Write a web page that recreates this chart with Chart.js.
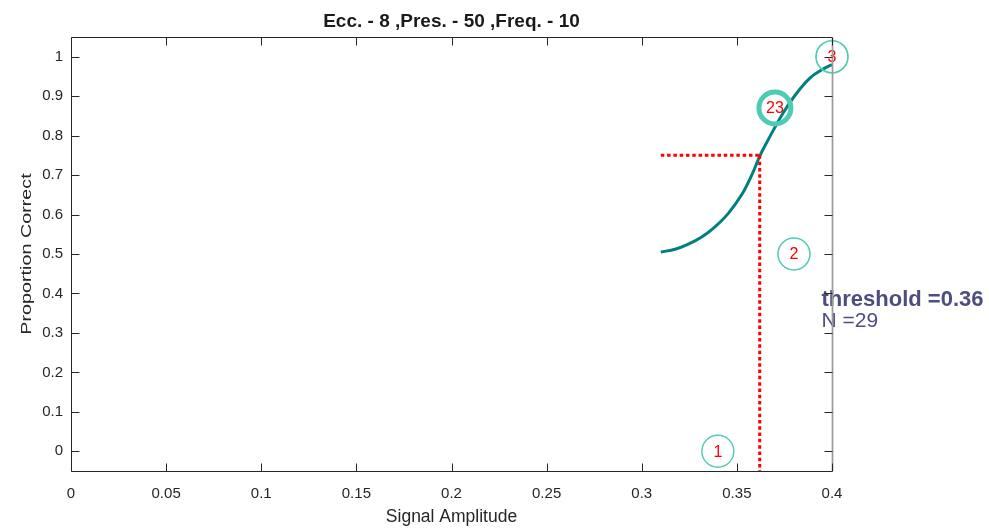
<!DOCTYPE html>
<html><head><meta charset="utf-8">
<script src="https://cdn.jsdelivr.net/npm/chart.js@4.4.0/dist/chart.umd.min.js"></script>
<style>html,body{margin:0;padding:0;background:#fff;}#wrap{width:989px;height:529px;position:relative;}</style>
</head><body><div id="wrap"><canvas id="c" width="989" height="529"></canvas></div>
<script>
const chartTitle = 'Ecc. - 8 ,Pres. - 50 ,Freq. - 10';
const xAxisLabel = 'Signal Amplitude';
const yAxisLabel = 'Proportion Correct';
const xTicks = [0, 0.05, 0.1, 0.15, 0.2, 0.25, 0.3, 0.35, 0.4];
const xTickLabels = ['0', '0.05', '0.1', '0.15', '0.2', '0.25', '0.3', '0.35', '0.4'];
const yTicks = [0, 0.1, 0.2, 0.3, 0.4, 0.5, 0.6, 0.7, 0.8, 0.9, 1];
const yTickLabels = ['0', '0.1', '0.2', '0.3', '0.4', '0.5', '0.6', '0.7', '0.8', '0.9', '1'];
const xRange = [0, 0.4];
const yRange = [-0.05, 1.05];

const stimLevels = [0.34, 0.38, 0.37, 0.40];
const propCorrect = [0, 0.5, 0.87, 1.0];
const trialCounts = [1, 2, 23, 3];

const fitX = [0.3100, 0.3175, 0.3245, 0.3315, 0.3385, 0.3455, 0.3525, 0.3578, 0.3622, 0.3665, 0.3692, 0.3744, 0.3815, 0.3884, 0.3954, 0.4000];
const fitY = [0.505, 0.512, 0.525, 0.543, 0.569, 0.603, 0.650, 0.700, 0.750, 0.790, 0.814, 0.858, 0.908, 0.946, 0.969, 0.980];

const threshold = 0.362;
const thresholdLevel = 0.75;
const totalN = 29;
const infoText = ['threshold =' + threshold.toFixed(2), 'N =' + totalN];
const infoAnchor = [0.3945, 0.367, 0.316];

const FONT = "'Liberation Sans', Arial, sans-serif";
const AXIS_COLOR = '#262626';

const framePlugin = {
  id: 'frame',
  afterDraw(chart) {
    const {ctx, chartArea: a, scales} = chart;
    const L = Math.round(a.left) + 0.5, R = Math.round(a.right) + 0.5;
    const T = Math.round(a.top) + 0.5, B = Math.round(a.bottom) + 0.5;
    ctx.save();
    ctx.lineWidth = 1;
    ctx.strokeStyle = AXIS_COLOR;
    ctx.beginPath();
    ctx.moveTo(R, T); ctx.lineTo(L, T); ctx.lineTo(L, B); ctx.lineTo(R, B);
    ctx.stroke();
    ctx.strokeStyle = '#9a9a9a';
    ctx.lineWidth = 1.7;
    ctx.beginPath(); ctx.moveTo(R, T); ctx.lineTo(R, B); ctx.stroke();
    ctx.lineWidth = 1;
    ctx.strokeStyle = AXIS_COLOR;
    const tl = 8;
    ctx.beginPath();
    xTicks.forEach(v => {
      const x = Math.round(scales.x.getPixelForValue(v)) + 0.5;
      ctx.moveTo(x, B); ctx.lineTo(x, B - tl);
      ctx.moveTo(x, T); ctx.lineTo(x, T + tl);
    });
    yTicks.forEach(v => {
      const y = Math.round(scales.y.getPixelForValue(v)) + 0.5;
      ctx.moveTo(L, y); ctx.lineTo(L + tl, y);
      ctx.moveTo(R, y); ctx.lineTo(R - tl, y);
    });
    ctx.stroke();
    ctx.restore();
  }
};

const labelPlugin = {
  id: 'countLabels',
  afterDatasetsDraw(chart) {
    const {ctx, scales} = chart;
    const meta = chart.getDatasetMeta(0);
    ctx.save();
    ctx.fillStyle = '#ff0000';
    ctx.font = '16px ' + FONT;
    ctx.textAlign = 'center';
    ctx.textBaseline = 'middle';
    meta.data.forEach((pt, i) => {
      ctx.fillText(String(trialCounts[i]), pt.x, pt.y + 1);
    });
    ctx.fillStyle = '#4d4d80';
    ctx.textAlign = 'left';
    ctx.textBaseline = 'alphabetic';
    const tx = scales.x.getPixelForValue(infoAnchor[0]);
    ctx.font = 'bold 22px ' + FONT;
    ctx.fillText(infoText[0], tx, scales.y.getPixelForValue(infoAnchor[1]));
    ctx.font = '21px ' + FONT;
    ctx.fillText(infoText[1], tx, scales.y.getPixelForValue(infoAnchor[2]));
    const a = chart.chartArea;
    ctx.fillStyle = AXIS_COLOR;
    ctx.font = '14px ' + FONT;
    ctx.textAlign = 'center';
    ctx.textBaseline = 'middle';
    ctx.translate(27, (a.top + a.bottom) / 2);
    ctx.rotate(-Math.PI / 2);
    ctx.scale(1.41, 1);
    ctx.fillText(yAxisLabel, 0, 0);
    ctx.restore();
  }
};

new Chart(document.getElementById('c'), {
  data: {
    datasets: [
      {
        type: 'scatter',
        data: stimLevels.map((x, i) => ({x: x, y: propCorrect[i]})),
        pointRadius: 16,
        pointHoverRadius: 16,
        pointBorderWidth: c => 1.2 + trialCounts[c.dataIndex] * 0.165,
        pointBorderColor: '#4dccb3',
        pointBackgroundColor: 'rgba(0,0,0,0)',
        clip: false
      },
      {
        type: 'line',
        data: [{x: fitX[0], y: thresholdLevel}, {x: threshold, y: thresholdLevel}],
        borderColor: '#ff0000', borderWidth: 3, borderDash: [3.5, 2.8],
        pointRadius: 0, fill: false
      },
      {
        type: 'line',
        data: [{x: threshold, y: thresholdLevel}, {x: threshold, y: yRange[0]}],
        borderColor: '#ff0000', borderWidth: 3, borderDash: [3.5, 2.8],
        pointRadius: 0, fill: false
      },
      {
        type: 'line',
        data: fitX.map((x, i) => ({x: x, y: fitY[i]})),
        borderColor: '#007f7f', borderWidth: 3,
        tension: 0.4,
        pointRadius: 0, fill: false
      }
    ]
  },
  options: {
    responsive: false,
    animation: false,
    devicePixelRatio: 1,
    layout: {padding: {left: 0, right: 157, top: 0, bottom: 0}},
    plugins: {
      legend: {display: false},
      tooltip: {enabled: false},
      title: {
        display: true, text: chartTitle, fullSize: false,
        color: '#1a1a1a',
        font: {family: FONT, size: 19, weight: 'bold'},
        padding: {top: 10.6, bottom: 3.6}
      }
    },
    scales: {
      x: {
        type: 'linear', position: 'bottom', min: xRange[0], max: xRange[1],
        afterBuildTicks: s => { s.ticks = xTicks.map(v => ({value: v})); },
        afterFit: s => { s.height = 58; },
        ticks: {
          callback: (v, i) => xTickLabels[i],
          font: {family: FONT, size: 15}, color: AXIS_COLOR,
          padding: 14, maxRotation: 0, autoSkip: false
        },
        grid: {display: false, drawTicks: false},
        border: {display: false},
        title: {
          display: true, text: xAxisLabel, color: AXIS_COLOR,
          font: {family: FONT, size: 17.5},
          padding: {top: 0, bottom: 1}
        }
      },
      y: {
        type: 'linear', position: 'left', min: yRange[0], max: yRange[1],
        afterBuildTicks: s => { s.ticks = yTicks.map(v => ({value: v})); },
        afterFit: s => { s.width = 71; },
        ticks: {
          callback: (v, i) => yTickLabels[i],
          font: {family: FONT, size: 15}, color: AXIS_COLOR,
          padding: 8, autoSkip: false
        },
        grid: {display: false, drawTicks: false},
        border: {display: false},
        title: {display: false}
      }
    }
  },
  plugins: [labelPlugin, framePlugin]
});
</script>
</body></html>
